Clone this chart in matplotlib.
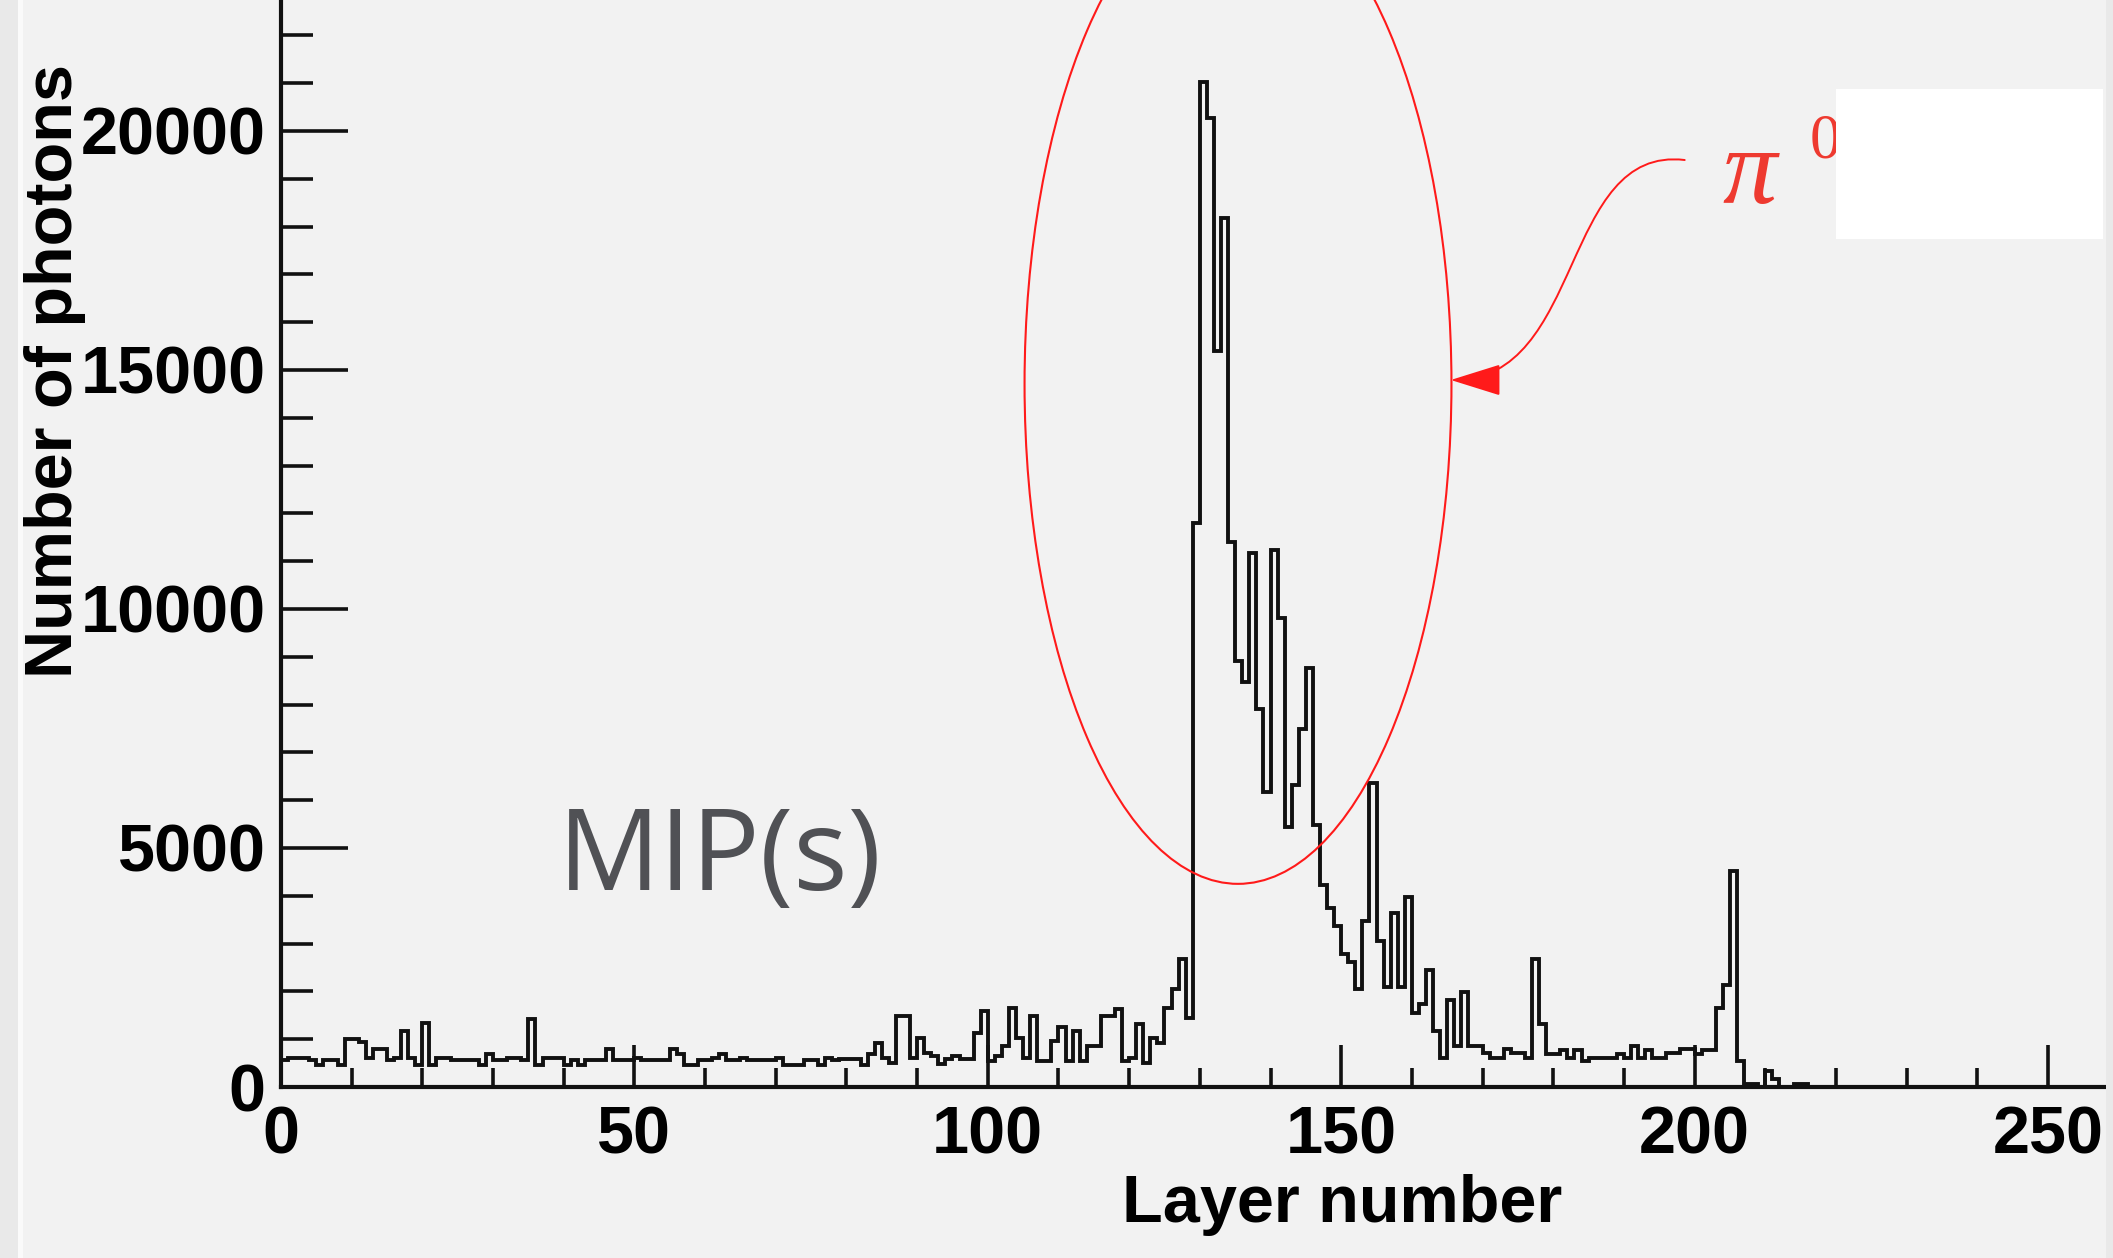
import numpy as np
import matplotlib.pyplot as plt
from matplotlib.patches import Ellipse, Rectangle, FancyArrowPatch
from matplotlib.path import Path
from matplotlib.ticker import MultipleLocator

plt.rcParams['font.family'] = ['Liberation Sans', 'DejaVu Sans']
plt.rcParams['font.weight'] = 'bold'

# photons per layer (one bin per layer, layers 0..219)
photons = [
    560, 610, 610, 610, 560, 450, 560, 560, 450, 1000,
    1000, 936, 614, 789, 789, 559, 614, 1174, 614, 454,
    1334, 454, 614, 614, 559, 559, 559, 559, 454, 699,
    559, 559, 614, 614, 559, 1418, 454, 614, 614, 614,
    454, 560, 454, 560, 560, 560, 789, 560, 560, 560,
    614, 560, 560, 560, 560, 789, 700, 454, 454, 560,
    560, 614, 699, 560, 560, 614, 560, 560, 560, 560,
    614, 454, 454, 454, 560, 560, 454, 614, 560, 580,
    580, 580, 454, 699, 929, 615, 510, 1488, 1488, 615,
    1034, 720, 650, 475, 580, 650, 580, 580, 1140, 1593,
    545, 650, 860, 1663, 1034, 615, 1488, 545, 545, 964,
    1258, 545, 1174, 545, 860, 860, 1488, 1488, 1628, 545,
    615, 1328, 510, 1034, 929, 1663, 2047, 2676, 1453, 11800,
    21030, 20265, 15400, 18180, 11410, 8910, 8470, 11170, 7910, 6180,
    11240, 9810, 5440, 6320, 7500, 8770, 5480, 4230, 3750, 3360,
    2780, 2606, 2047, 3479, 6358, 3060, 2100, 3633, 2096, 3982,
    1558, 1733, 2446, 1174, 615, 1817, 859, 1977, 859, 859,
    720, 615, 615, 790, 720, 720, 615, 2676, 1328, 685,
    685, 769, 615, 769, 545, 615, 615, 615, 615, 685,
    615, 859, 615, 769, 615, 615, 720, 720, 790, 790,
    685, 769, 769, 1663, 2138, 4527, 545, 56, 56, 0,
    330, 161, 0, 0, 56, 56, 0, 0, 0, 0,
]
layer_edges = np.arange(len(photons) + 1)

x_ticks = [0, 50, 100, 150, 200, 250]
y_ticks = [0, 5000, 10000, 15000, 20000]

W, H = 2113, 1258
bg = '#f2f2f2'
ink = '#111111'
fig = plt.figure(figsize=(W / 100, H / 100), dpi=100, facecolor=bg)
ax = fig.add_axes([281 / W, 1 - 1087 / H, 260 * 7.068 / W, 23000 * 0.0478 / H])
ax.set_facecolor(bg)

ax.stairs(photons, layer_edges, baseline=0, color=ink, lw=2.8)

ax.set_xlim(0, 260)
ax.set_ylim(0, 23000)
ax.set_xticks(x_ticks)
ax.set_yticks(y_ticks)
ax.xaxis.set_minor_locator(MultipleLocator(10))
ax.yaxis.set_minor_locator(MultipleLocator(1000))
ax.tick_params(axis='x', which='major', direction='in', length=30, width=2.6,
               labelsize=48, pad=13, color=ink)
ax.tick_params(axis='x', which='minor', direction='in', length=14, width=2.6,
               color=ink)
ax.tick_params(axis='y', which='major', direction='in', length=48, width=2.6,
               labelsize=48, pad=11, color=ink)
ax.tick_params(axis='y', which='minor', direction='in', length=23, width=2.6,
               color=ink)
for s in ['top', 'right']:
    ax.spines[s].set_visible(False)
for s in ['left', 'bottom']:
    ax.spines[s].set_linewidth(3.0)
    ax.spines[s].set_color(ink)

# red ellipse around the pi0 shower
ax.add_patch(Ellipse((135.4, 14707), width=60.4, height=20914, fill=False,
                     edgecolor='#ff1a1a', lw=1.5, clip_on=False))

# curved arrow from the label to the ellipse
verts = [(198.6, 19393), (181.0, 19700), (184.5, 14791), (165.5, 14791)]
codes = [Path.MOVETO, Path.CURVE4, Path.CURVE4, Path.CURVE4]
ax.add_patch(FancyArrowPatch(path=Path(verts, codes),
                             arrowstyle='-|>,head_length=3.2,head_width=1.0',
                             mutation_scale=10, color='#ff1a1a', lw=1.4,
                             clip_on=False))

ax.text(204.0, 18494, 'π', fontsize=78, family='Liberation Serif',
        style='italic', weight='normal', color='#ee3a30', va='baseline')
ax.text(216.3, 19456, '0', fontsize=45, family='Liberation Serif',
        weight='normal', color='#ee3a30', va='baseline')

ax.text(39.2, 4121, 'MIP(s)', fontsize=82, family='Open Sans',
        weight='normal', color='#505155', va='baseline')

fig.text(1342 / W, 1 - 1222 / H, 'Layer number', ha='center', va='baseline',
         fontsize=48, weight='bold')
fig.text(72 / W, 1 - 371 / H, 'Number of photons', rotation=90,
         rotation_mode='anchor', ha='center', va='baseline',
         fontsize=48, weight='bold')

# white box covering the right of the label, and the page edges
fig.add_artist(Rectangle((1836 / W, 1 - 239 / H), 267 / W, 150 / H,
                         transform=fig.transFigure, facecolor='white',
                         edgecolor='none', zorder=10))
fig.add_artist(Rectangle((0, 0), 18 / W, 1, transform=fig.transFigure,
                         facecolor='#e9e9e9', edgecolor='none', zorder=10))
fig.add_artist(Rectangle((18 / W, 0), 5 / W, 1, transform=fig.transFigure,
                         facecolor='#fafafa', edgecolor='none', zorder=10))
fig.add_artist(Rectangle((2106 / W, 0), 7 / W, 1, transform=fig.transFigure,
                         facecolor='#e9e9e9', edgecolor='none', zorder=10))

fig.savefig('out.png', dpi=100, facecolor=bg)
